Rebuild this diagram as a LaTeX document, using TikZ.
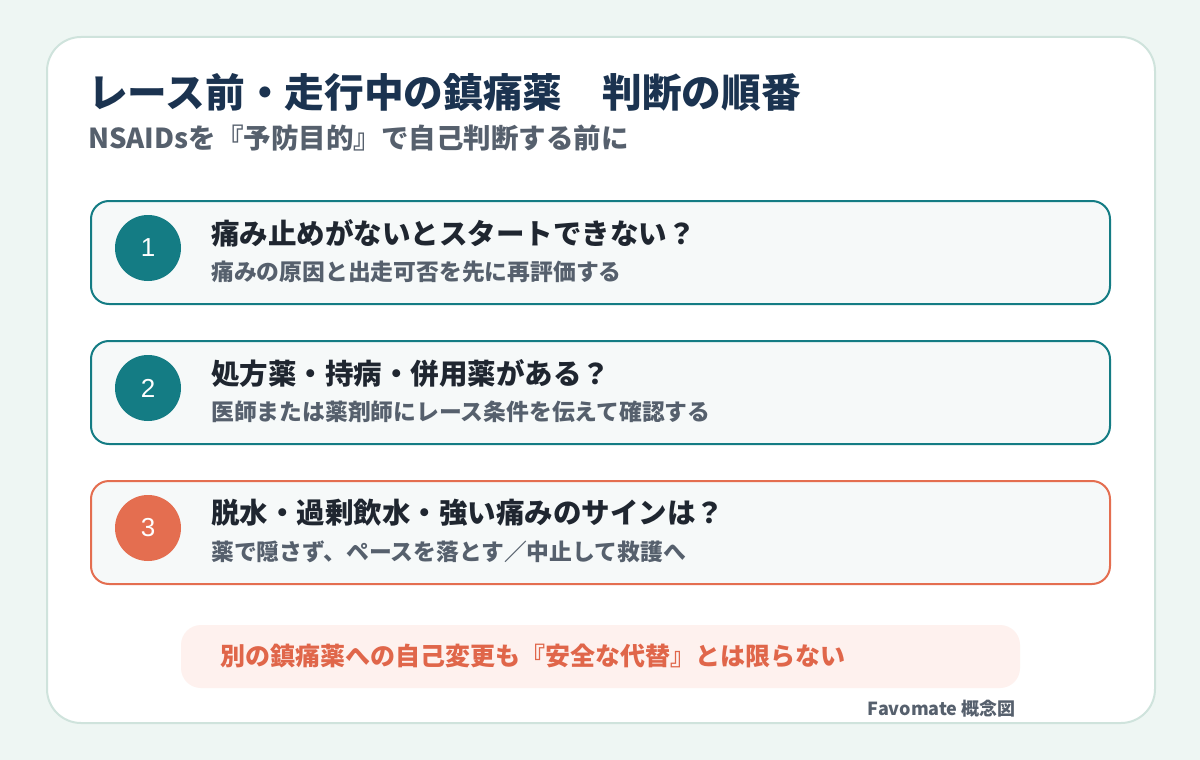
\documentclass[tikz,border=0pt]{standalone}
\usepackage{fontspec}
\setmainfont{Noto Sans CJK JP}
\newfontfamily\numfont{Liberation Sans}
\definecolor{bgc}{HTML}{EEF6F3}
\definecolor{cardline}{HTML}{CFE3DC}
\definecolor{navy}{HTML}{1B3350}
\definecolor{graytxt}{HTML}{56606D}
\definecolor{darktxt}{HTML}{1F2630}
\definecolor{teal}{HTML}{147C84}
\definecolor{coral}{HTML}{E46E50}
\definecolor{stepfill}{HTML}{F6F9F9}
\definecolor{warnfill}{HTML}{FEF1EE}
\definecolor{warntxt}{HTML}{E0664A}
\tikzset{
  stepcard/.style={draw=#1, line width=2pt, fill=stepfill, rounded corners=18pt},
  stepnum/.style={circle, fill=#1, minimum size=66pt, inner sep=0pt, text=white, font=\numfont\fontsize{26}{26}\selectfont},
  steptitle/.style={anchor=west, inner sep=0pt, text=darktxt, font=\bfseries\fontsize{28.5}{28.5}\selectfont},
  stepsub/.style={anchor=west, inner sep=0pt, text=graytxt, font=\bfseries\fontsize{22.8}{22.8}\selectfont},
}
\begin{document}
\begin{tikzpicture}[x=1pt,y=-1pt]
\useasboundingbox (0,0) rectangle (1200,760);
\fill[bgc] (0,0) rectangle (1200,760);
\draw[cardline, line width=2pt, fill=white, rounded corners=34pt] (47,37) rectangle (1155,723);
\node[anchor=west, inner sep=0pt, text=navy, font=\bfseries\fontsize{39.7}{39.7}\selectfont] (title) at (88,92) {レース前・走行中の鎮痛薬　判断の順番};
\node[anchor=west, inner sep=0pt, text=graytxt, font=\bfseries\fontsize{27.5}{27.5}\selectfont] (subtitle) at (88,138) {NSAIDsを『予防目的』で自己判断する前に};
% card 1
\draw[stepcard=teal] (91,201) rectangle (1110,304);
\node[stepnum=teal] (n1) at (148,248) {1};
\node[steptitle] (t1) at (211,233) {痛み止めがないとスタートできない？};
\node[stepsub] (s1) at (211,272) {痛みの原因と出走可否を先に再評価する};
% card 2
\draw[stepcard=teal] (91,341) rectangle (1110,444);
\node[stepnum=teal] (n2) at (148,388) {2};
\node[steptitle] (t2) at (211,373) {処方薬・持病・併用薬がある？};
\node[stepsub] (s2) at (211,412) {医師または薬剤師にレース条件を伝えて確認する};
% card 3
\draw[stepcard=coral] (91,481) rectangle (1110,584);
\node[stepnum=coral] (n3) at (148,528) {3};
\node[steptitle] (t3) at (211,513) {脱水・過剰飲水・強い痛みのサインは？};
\node[stepsub] (s3) at (211,552) {薬で隠さず、ペースを落とす／中止して救護へ};
% warning banner
\fill[warnfill, rounded corners=20pt] (181,625) rectangle (1020,688);
\node[anchor=west, inner sep=0pt, text=warntxt, font=\bfseries\fontsize{25}{25}\selectfont] (warn) at (220,656) {別の鎮痛薬への自己変更も『安全な代替』とは限らない};
\node[anchor=east, inner sep=0pt, text=graytxt, font=\bfseries\fontsize{18}{18}\selectfont] (credit) at (1016,709) {Favomate 概念図};
\end{tikzpicture}
\end{document}
